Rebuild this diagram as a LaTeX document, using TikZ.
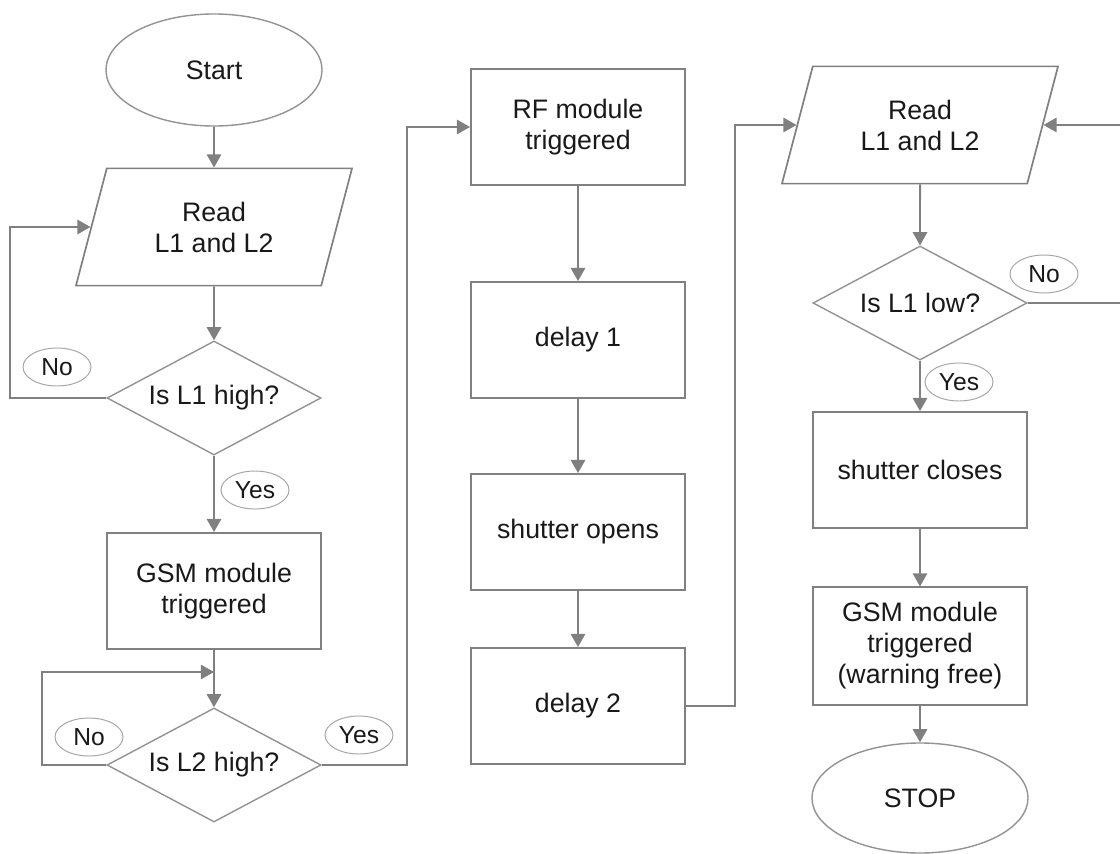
\documentclass[tikz,border=0pt]{standalone}
\usepackage{fontspec}
\setmainfont{Liberation Sans}
\usetikzlibrary{shapes.geometric, arrows.meta}

\begin{document}
\begin{tikzpicture}[x=0.025cm, y=-0.025cm,
	line/.style={draw=gray, line width=1.4pt},
	arr/.style={line, -{Triangle[length=0.33cm, width=0.36cm]}},
	txt/.style={font=\fontsize{19}{22}\selectfont, align=center, text=black!90},
	box/.style={txt, rectangle, draw=gray, line width=1.3pt, fill=white, minimum width=5.35cm, minimum height=2.9cm},
	cond/.style={txt, diamond, aspect=1.88, draw=gray!85, line width=1pt, fill=white, minimum width=5.35cm, minimum height=2.85cm, inner sep=0pt},
	io/.style={txt, trapezium, trapezium left angle=60, trapezium right angle=120, trapezium stretches body=true, draw=gray, line width=1.2pt, fill=white, minimum width=6.9cm, minimum height=2.93cm, inner sep=1pt},
	term/.style={txt, ellipse, draw=gray!85, line width=1pt, fill=white, minimum width=5.4cm, minimum height=2.8cm},
	tag/.style={ellipse, draw=gray!70, line width=0.7pt, font=\fontsize{17.5}{20}\selectfont, text=black!90, minimum width=1.7cm, minimum height=0.95cm, inner sep=0pt}]
\fill[white] (0,0) rectangle (1120,854);
\useasboundingbox (0,0) rectangle (1120,854);

% left column
\node[term] (start) at (214,70) {Start};
\node[io] (read1) at (214,227) {Read\\L1 and L2};
\node[cond] (high1) at (214,398) {Is L1 high?};
\node[box] (gsm1) at (214,591) {GSM module\\triggered};
\node[cond] (high2) at (214,765) {Is L2 high?};

% middle column
\node[box] (rf) at (578,127) {RF module\\triggered};
\node[box] (delay1) at (578,340) {delay 1};
\node[box] (opens) at (578,532) {shutter opens};
\node[box] (delay2) at (578,706) {delay 2};

% right column
\node[io] (read2) at (920,125) {Read\\L1 and L2};
\node[cond] (low1) at (920,303) {Is L1 low?};
\node[box] (closes) at (920,470) {shutter closes};
\node[box, minimum height=2.93cm] (gsm2) at (920,646) {GSM module\\triggered\\(warning free)};
\node[term, minimum height=2.75cm] (stop) at (920,798) {STOP};

\coordinate (back1) at (10,398);
\coordinate (join2) at (214,672);
\coordinate (back2) at (42,765);
\coordinate (go1) at (407,765);
\coordinate (go2) at (735,706);
\coordinate (back3) at (1135,303);

\draw[arr] (start) -- (read1);
\draw[arr] (read1) -- (high1);
\draw[arr] (high1.west) -- (back1) |- (read1.180);
\draw[arr] (high1) -- (gsm1);
\draw[arr] (gsm1) -- (high2);
\draw[arr] (high2.west) -- (back2) |- (join2);
\draw[arr] (high2.east) -- (go1) |- (rf.west);
\foreach \a/\b in {rf/delay1, delay1/opens, opens/delay2}
	\draw[arr] (\a) -- (\b);
\draw[arr] (delay2.east) -- (go2) |- (read2.180);
\draw[arr] (read2) -- (low1);
\draw[arr] (low1.east) -- (back3) |- (read2.0);
\draw[arr] (low1) -- (closes);
\draw[arr] (closes) -- (gsm2);
\draw[arr] (gsm2) -- (stop);

% yes / no tags
\node[tag] (no1) at (57,367) {No};
\node[tag] (yes1) at (255,490) {Yes};
\node[tag] (no2) at (89,737) {No};
\node[tag] (yes2) at (359,735) {Yes};
\node[tag] (no3) at (1044,274) {No};
\node[tag] (yes3) at (959,382) {Yes};
\end{tikzpicture}
\end{document}
